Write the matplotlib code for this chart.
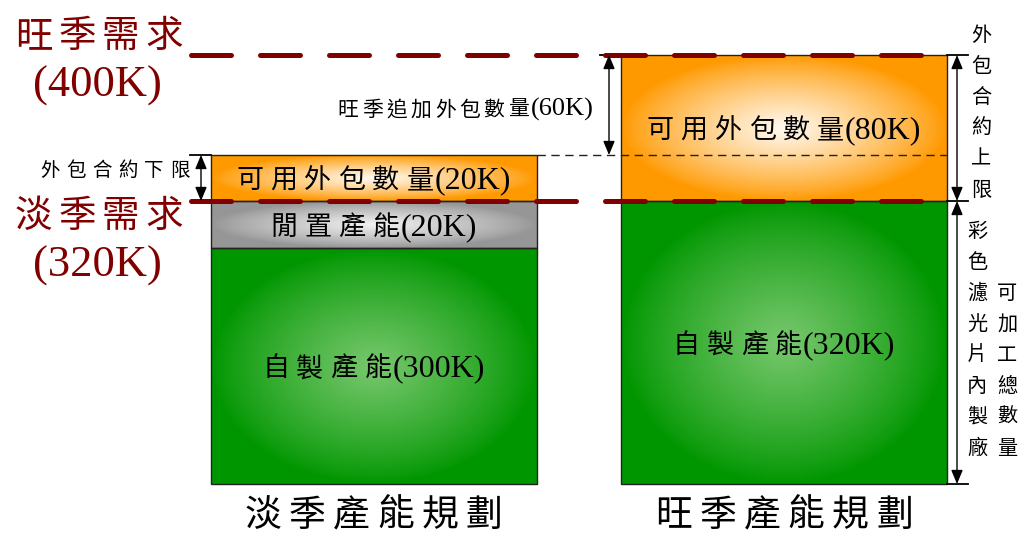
import numpy as np
import matplotlib
matplotlib.use("Agg")
import matplotlib.pyplot as plt
import matplotlib.transforms as mtransforms

# ---------------- data ----------------
categories = ['淡季產能規劃', '旺季產能規劃']
inhouse = [300, 320]          # 自製產能 (K)
idle = [20, 0]                # 閒置產能 (K)
outsource = [20, 80]          # 可用外包數量 (K)
demand = [320, 400]           # 淡季需求, 旺季需求 (K)
demand_names = ['淡季需求', '旺季需求']
layer_names = ['自製產能', '閒置產能', '可用外包數量']

# ---------------- layout ----------------
W, H = 1022, 537
DPI = 100
fig = plt.figure(figsize=(W / DPI, H / DPI), dpi=DPI)
ax = fig.add_axes([0, 0, 1, 1])

# piecewise-linear value scale (the schematic is not drawn to scale)
KV = np.array([-100, 0, 300, 320, 340, 400, 600], dtype=float)
KH = np.array([-78.7, 0, 236, 283, 329, 429, 762], dtype=float)
fwd = lambda v: np.interp(v, KV, KH)
inv = lambda h: np.interp(h, KH, KV)
ax.set_yscale('function', functions=(fwd, inv))
ax.set_xlim(0, W)
ax.set_ylim(float(inv(-53)), float(inv(484)))
ax.set_autoscale_on(False)
ax.axis('off')

x_pos = [373.5, 784.0]
bar_w = 326

RED = '#800000'
CJK = 'Noto Sans CJK TC'
LAT = 'Liberation Serif'

# pixel-coordinate transform (x right, y down)
P = mtransforms.Affine2D().scale(1.0 / W, -1.0 / H).translate(0, 1) + fig.transFigure


def val_to_py(v):
    fy = ax.transAxes.inverted().transform(ax.transData.transform((0, v)))[1]
    return (1 - fy) * H


def gradient(edge, center, nx=160, ny=120):
    xs = np.linspace(-1, 1, nx)
    ys = np.linspace(-1, 1, ny)
    X, Y = np.meshgrid(xs, ys)
    r = np.sqrt(X ** 2 + Y ** 2)
    t = np.clip(1 - r, 0, 1) ** 0.85
    e = np.array(edge) / 255.0
    c = np.array(center) / 255.0
    return e[None, None, :] + (c - e)[None, None, :] * t[:, :, None]


styles = {
    '自製產能': ((0, 150, 0), (120, 200, 110)),
    '閒置產能': ((150, 150, 150), (242, 242, 242)),
    '可用外包數量': ((255, 153, 0), (255, 250, 242)),
}

renderer = fig.canvas.get_renderer()


def rich(xc, yc, cjk, latin, cjk_pt, lat_pt, gap, color='black', sep=1.0):
    em = cjk_pt * DPI / 72.0
    n = len(cjk)
    w_cjk = n * em + (n - 1) * gap
    t = None
    w_lat = 0
    if latin:
        t = ax.text(0, 0, latin, fontsize=lat_pt, family=LAT, color=color,
                    transform=P, ha='left', va='baseline', zorder=10)
        w_lat = t.get_window_extent(renderer).width
    total = w_cjk + ((sep + w_lat) if latin else 0)
    x0 = xc - total / 2
    base = yc + 0.38 * em
    for i, ch in enumerate(cjk):
        ax.text(x0 + i * (em + gap) + em / 2, base, ch, fontsize=cjk_pt,
                family=CJK, color=color, ha='center', va='baseline',
                transform=P, zorder=10)
    if t is not None:
        t.set_position((x0 + w_cjk + sep, base))


# ---------------- bars ----------------
for i in range(len(categories)):
    bottom = 0
    for name, vals in zip(layer_names, [inhouse, idle, outsource]):
        h = vals[i]
        if h <= 0:
            continue
        bars = ax.bar(x_pos[i], h, bottom=bottom, width=bar_w, facecolor='none',
                      edgecolor='#222222', linewidth=1.0, zorder=3)
        patch = bars.patches[0]
        x0, x1 = x_pos[i] - bar_w / 2, x_pos[i] + bar_w / 2
        (ax0, ay0), (ax1, ay1) = ax.transAxes.inverted().transform(
            ax.transData.transform([(x0, bottom), (x1, bottom + h)]))
        edge, center = styles[name]
        im = ax.imshow(gradient(edge, center), extent=(ax0, ax1, ay0, ay1),
                       origin='lower', transform=ax.transAxes, aspect='auto',
                       interpolation='bilinear', zorder=2)
        im.set_clip_path(patch)
        # label in the visual middle of the segment
        yc = (val_to_py(bottom) + val_to_py(bottom + h)) / 2
        rich(x_pos[i], yc, name, f'({h}K)', 19.5, 23, 7)
        bottom += h

# ---------------- demand lines ----------------
for d in demand:
    ln, = ax.plot([190.5, 921], [d, d], color=RED, lw=3.6, zorder=6,
                  solid_capstyle='round')
    ln.set_dashes((8, 5.8))
    ln.set_dash_capstyle('round')

for d, name, yc, base in zip(demand, demand_names, [213, 32.5], [277, 97]):
    rich(99, yc, name, '', 27, 27, 6, color=RED)
    ax.text(97.5, base, f'({d}K)', fontsize=32, family=LAT, color=RED,
            ha='center', va='baseline', transform=P, zorder=10)

# ---------------- brackets / arrows ----------------
left_top = inhouse[0] + idle[0] + outsource[0]
right_top = inhouse[1] + idle[1] + outsource[1]
AS = '<|-|>,head_length=0.6,head_width=0.25'


def arrow(x, v0, v1):
    ax.annotate('', xy=(x, v1), xytext=(x, v0),
                arrowprops=dict(arrowstyle=AS, color='black', lw=1.0,
                                shrinkA=0, shrinkB=0, mutation_scale=14),
                zorder=7)


def tick(xa, xb, v):
    ax.plot([xa, xb], [v, v], color='black', lw=1.3, zorder=5)


# left: 外包合約下限
tick(190, x_pos[0] - bar_w / 2, left_top)
arrow(201, demand[0], left_top)
rich(115, 169, '外包合約下限', '', 14, 14, 6.5)

# middle: 旺季追加外包數量
dl, = ax.plot([x_pos[0] + bar_w / 2, x_pos[1] + bar_w / 2], [left_top, left_top],
              color='#222222', lw=1.0, zorder=5)
dl.set_dashes((6, 4))
tick(600, x_pos[1] - bar_w / 2, demand[1])
arrow(609, demand[1], left_top)
rich(465.5, 108, '旺季追加外包數量', f'({demand[1] - left_top}K)', 15, 19, 3.5, sep=2)

# right: 外包合約上限 / 彩色濾光片內製廠可加工總數量
for v in [right_top, inhouse[1], 0]:
    tick(x_pos[1] + bar_w / 2, 968, v)
arrow(957, right_top, inhouse[1])
arrow(957, inhouse[1], 0)


def vtext(x, y0, s, step=31, pt=14.5):
    em = pt * DPI / 72.0
    for k, ch in enumerate(s):
        ax.text(x, y0 + k * step + 0.38 * em, ch, fontsize=pt, family=CJK,
                ha='center', va='baseline', transform=P, zorder=10)


vtext(981, 33, '外包合約上限')
vtext(977, 229, '彩色濾光片內製廠')
vtext(1007, 291, '可加工總數量')

# ---------------- category labels ----------------
for i, cat in enumerate(categories):
    rich(x_pos[i], 512, cat, '', 26.5, 26.5, 7.5)

fig.savefig('out.png', dpi=DPI, facecolor='white')
